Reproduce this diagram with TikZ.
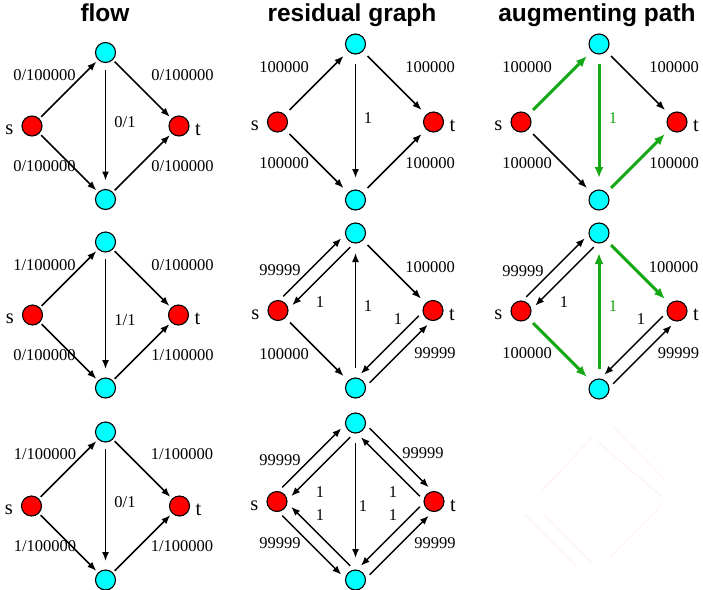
\documentclass[tikz,border=0pt]{standalone}
\usepackage{fontspec}
\setmainfont{Liberation Serif}
\newfontfamily\headfont{Liberation Sans}
\usetikzlibrary{arrows.meta}

\definecolor{augreen}{RGB}{20,168,20}
\definecolor{midcyan}{RGB}{0,255,255}
\definecolor{endred}{RGB}{255,0,0}
\definecolor{ghost}{RGB}{255,238,242}

\tikzset{
  vertex/.style={circle, draw, line width=1.1pt, fill=midcyan, minimum size=20pt, inner sep=0pt, outer sep=0pt},
  terminal/.style={vertex, fill=endred},
  stlbl/.style={font=\fontsize{20.5}{22}\selectfont, inner sep=0pt, yshift=-4pt},
  wgt/.style={font=\fontsize{16.5}{18}\selectfont, inner sep=0pt},
  heading/.style={font=\headfont\bfseries\fontsize{24.5}{26}\selectfont, anchor=base},
  arc/.style={->, line width=1.5pt, shorten <=3pt, shorten >=3pt},
  res/.style={arc, shorten <=7pt, shorten >=7pt},
  pair/.style={arc, shorten <=6pt, shorten >=6pt},
  aug/.style={res, draw=augreen, line width=3pt, >={Latex[length=11pt,width=9pt]}},
}

% s, t and the two middle vertices of one network
\newcommand{\stnet}[4]{%
  \node[terminal, label={[stlbl, label distance=8.5pt]left:s}] (#1s) at (#2-#4,#3) {};
  \node[terminal, label={[stlbl, label distance=6pt]right:t}] (#1t) at (#2+#4,#3) {};
  \node[vertex] (#1u) at (#2,#3-#4) {};
  \node[vertex] (#1d) at (#2,#3+#4) {};
}

\begin{document}
\begin{tikzpicture}[x=1pt, y=-1pt, >={Latex[length=9pt,width=7pt]}]
  \useasboundingbox (0,0) rectangle (703,589);

  % column headings
  \node[heading] (hflow) at (105,21) {flow};
  \node[heading] (hres) at (352,21) {residual graph};
  \node[heading] (haug) at (597,21) {augmenting path};

  % flow, step 1
  \stnet{fa}{105.5}{126}{73.5}
  \draw[arc] (fas) -- (fau);
  \draw[arc] (fau) -- (fat);
  \draw[arc] (fas) -- (fad);
  \draw[arc] (fad) -- (fat);
  \draw[arc, shorten <=7pt, shorten >=9pt] (fau) -- (fad);
  \node[wgt] (fa-su) at (44.5,75) {0/100000};
  \node[wgt] (fa-ut) at (182.5,75) {0/100000};
  \node[wgt] (fa-sd) at (44.5,166) {0/100000};
  \node[wgt] (fa-dt) at (182.5,166) {0/100000};
  \node[wgt] (fa-ud) at (125,122) {0/1};

  % flow, step 2
  \stnet{fb}{105.5}{315}{73}
  \draw[arc] (fbs) -- (fbu);
  \draw[arc] (fbu) -- (fbt);
  \draw[arc] (fbs) -- (fbd);
  \draw[arc] (fbd) -- (fbt);
  \draw[arc, shorten <=7pt, shorten >=9pt] (fbu) -- (fbd);
  \node[wgt] (fb-su) at (44.5,265) {1/100000};
  \node[wgt] (fb-ut) at (182.5,265) {0/100000};
  \node[wgt] (fb-sd) at (44.5,355) {0/100000};
  \node[wgt] (fb-dt) at (182.5,355) {1/100000};
  \node[wgt] (fb-ud) at (125,320) {1/1};

  % flow, step 3
  \stnet{fc}{105.5}{506}{74}
  \draw[arc] (fcs) -- (fcu);
  \draw[arc] (fcu) -- (fct);
  \draw[arc] (fcs) -- (fcd);
  \draw[arc] (fcd) -- (fct);
  \draw[arc, shorten <=7pt, shorten >=9pt] (fcu) -- (fcd);
  \node[wgt] (fc-su) at (45,454) {1/100000};
  \node[wgt] (fc-ut) at (182,454) {1/100000};
  \node[wgt] (fc-sd) at (45,546) {1/100000};
  \node[wgt] (fc-dt) at (182,546) {1/100000};
  \node[wgt] (fc-ud) at (125,502) {0/1};

  % residual graph, step 1
  \stnet{ra}{355.5}{122}{78}
  \draw[res] (ras) -- (rau);
  \draw[res] (rau) -- (rat);
  \draw[res] (ras) -- (rad);
  \draw[res] (rad) -- (rat);
  \draw[res, shorten <=10pt, shorten >=12pt] (rau) -- (rad);
  \node[wgt] (ra-su) at (284,67) {100000};
  \node[wgt] (ra-ut) at (430,67) {100000};
  \node[wgt] (ra-sd) at (284,163) {100000};
  \node[wgt] (ra-dt) at (430,163) {100000};
  \node[wgt] (ra-ud) at (368,118) {1};

  % residual graph, step 2
  \stnet{rb}{355.5}{310.5}{77.5}
  \draw[pair] (rbs.84) -- (rbu.186);
  \draw[pair] (rbu.264) -- (rbs.6);
  \draw[res] (rbu) -- (rbt);
  \draw[res] (rbs) -- (rbd);
  \draw[pair] (rbd.6) -- (rbt.264);
  \draw[pair] (rbt.186) -- (rbd.84);
  \draw[res, shorten <=10pt, shorten >=10pt] (rbd) -- (rbu);
  \node[wgt] (rb-su) at (280,270) {99999};
  \node[wgt] (rb-us) at (320,302) {1};
  \node[wgt] (rb-ut) at (430,267) {100000};
  \node[wgt] (rb-du) at (368,306) {1};
  \node[wgt] (rb-td) at (398,319) {1};
  \node[wgt] (rb-dt) at (435,353) {99999};
  \node[wgt] (rb-sd) at (284,354) {100000};

  % residual graph, step 3
  \stnet{rc}{355.5}{501.5}{78.5}
  \draw[pair] (rcs.84) -- (rcu.186);
  \draw[pair] (rcu.264) -- (rcs.6);
  \draw[pair] (rcu.354) -- (rct.96);
  \draw[pair] (rct.174) -- (rcu.276);
  \draw[pair] (rcs.276) -- (rcd.174);
  \draw[pair] (rcd.96) -- (rcs.354);
  \draw[pair] (rcd.6) -- (rct.264);
  \draw[pair] (rct.186) -- (rcd.84);
  \draw[res, shorten <=10pt, shorten >=12pt] (rcu) -- (rcd);
  \node[wgt] (rc-su) at (280,460) {99999};
  \node[wgt] (rc-ut) at (423,453) {99999};
  \node[wgt] (rc-sd) at (280,543) {99999};
  \node[wgt] (rc-dt) at (435,543) {99999};
  \node[wgt] (rc-us) at (320,492) {1};
  \node[wgt] (rc-ds) at (320,515) {1};
  \node[wgt] (rc-tu) at (393,492) {1};
  \node[wgt] (rc-td) at (393,515) {1};
  \node[wgt] (rc-ud) at (363,506) {1};

  % augmenting path, step 1
  \stnet{aa}{599}{122}{78}
  \draw[aug] (aas) -- (aau);
  \draw[res] (aau) -- (aat);
  \draw[res] (aas) -- (aad);
  \draw[aug] (aad) -- (aat);
  \draw[aug, shorten <=10pt, shorten >=12pt] (aau) -- (aad);
  \node[wgt] (aa-su) at (527,67) {100000};
  \node[wgt] (aa-ut) at (674,67) {100000};
  \node[wgt] (aa-sd) at (527,163) {100000};
  \node[wgt] (aa-dt) at (674,163) {100000};
  \node[wgt, text=augreen] (aa-ud) at (613,118) {1};

  % augmenting path, step 2
  \stnet{ab}{599}{311}{78}
  \draw[pair] (abs.84) -- (abu.186);
  \draw[pair] (abu.264) -- (abs.6);
  \draw[aug] (abu) -- (abt);
  \draw[aug] (abs) -- (abd);
  \draw[pair] (abd.6) -- (abt.264);
  \draw[pair] (abt.186) -- (abd.84);
  \draw[aug, shorten <=10pt, shorten >=10pt] (abd) -- (abu);
  \node[wgt] (ab-su) at (523,271) {99999};
  \node[wgt] (ab-us) at (564,302) {1};
  \node[wgt] (ab-ut) at (673.5,267) {100000};
  \node[wgt, text=augreen] (ab-du) at (613,306) {1};
  \node[wgt] (ab-td) at (641,319) {1};
  \node[wgt] (ab-dt) at (678.5,353) {99999};
  \node[wgt] (ab-sd) at (527,353) {100000};

  % faint leftovers in the empty corner
  \draw[ghost, line width=1pt] (542,490) -- (593,437);
  \draw[ghost, line width=1pt] (598,442) -- (662,497);
  \draw[ghost, line width=1pt] (613,427) -- (665,480);
  \draw[ghost, line width=1pt] (525,515) -- (577,567);
  \draw[ghost, line width=1pt] (543,513) -- (593,564);
  \draw[ghost, line width=1pt] (610,557) -- (662,505);
\end{tikzpicture}
\end{document}
